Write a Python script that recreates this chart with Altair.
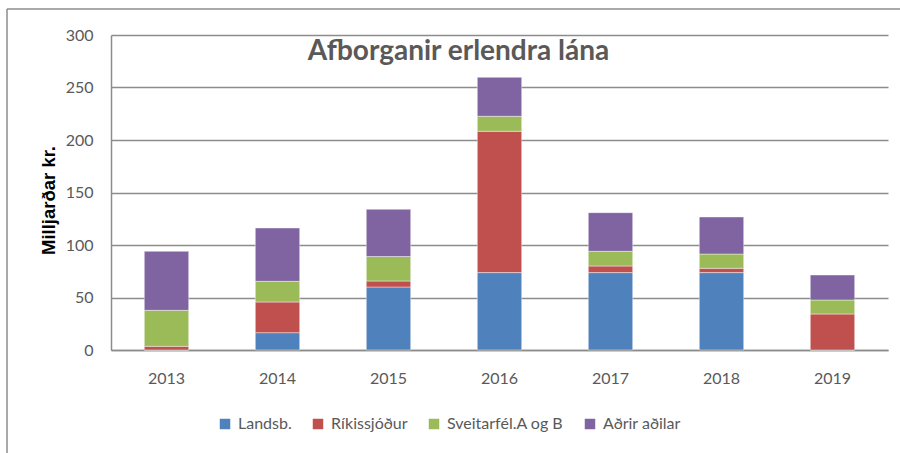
import altair as alt
import pandas as pd

years = ["2013", "2014", "2015", "2016", "2017", "2018", "2019"]
series = ["Landsb.", "Ríkissjóður", "Sveitarfél.A og B", "Aðrir aðilar"]
landsb = [0, 16.5, 60, 73.7, 73.7, 73.7, 0]
rikissjodur = [3.5, 29.2, 5.7, 134.6, 6.3, 4.1, 34.3]
sveitarfel = [34.3, 19.7, 23.3, 14.3, 14.0, 13.6, 13.3]
adrir = [56.2, 50.8, 45.0, 37.1, 36.8, 35.3, 23.8]
colors = ["#4F81BD", "#C0504D", "#9BBB59", "#8064A2"]
y_ticks = [0, 50, 100, 150, 200, 250, 300]

rows = []
for idx, (name, vals) in enumerate(zip(series, [landsb, rikissjodur, sveitarfel, adrir])):
    for yr, v in zip(years, vals):
        rows.append({"ar": yr, "adili": name, "rod": idx, "upphaed": v})
df = pd.DataFrame(rows)

FONT = "Lato"
GRID = "#8c8c8c"
TEXT = "#595959"

bars = alt.Chart(df).mark_bar(stroke="white", strokeWidth=0.6, strokeOpacity=0.7).encode(
    x=alt.X("ar:N", sort=years, title=None,
            scale=alt.Scale(paddingInner=0.6, paddingOuter=0.3),
            axis=alt.Axis(labelAngle=0, ticks=False, labelPadding=20,
                          labelFontSize=16, labelColor=TEXT, labelFont=FONT,
                          domainColor=GRID, domainWidth=1.5)),
    y=alt.Y("upphaed:Q", stack="zero", title="Milljarðar kr.",
            scale=alt.Scale(domain=[0, 300], nice=False),
            axis=alt.Axis(values=y_ticks, ticks=False, labelPadding=18,
                          labelFontSize=16, labelColor=TEXT, labelFont=FONT,
                          gridColor=GRID, gridWidth=1.5, domainColor=GRID, domainWidth=1.5,
                          titleFont="Liberation Sans", titleFontSize=18.5, titleFontWeight="bold",
                          titleColor="black", titleX=-63, titleY=165,
                          titleAlign="center", titleBaseline="middle", titleAngle=-90)),
    color=alt.Color("adili:N", sort=series,
                    scale=alt.Scale(domain=series, range=colors),
                    legend=alt.Legend(title=None, orient="none", direction="horizontal",
                                      legendX=106, legendY=381,
                                      symbolType="square", symbolSize=110,
                                      symbolStrokeWidth=0, labelFontSize=16,
                                      labelColor=TEXT, labelFont=FONT,
                                      labelOffset=5, columnPadding=18)),
    order=alt.Order("rod:Q"),
)

frame_src = alt.Data(values=[{"k": 1}])
frame_left = alt.Chart(frame_src).mark_rule(color=GRID, strokeWidth=1.5).encode(
    x=alt.value(-104), y=alt.value(-26), y2=alt.value(430))
frame_top = alt.Chart(frame_src).mark_rule(color=GRID, strokeWidth=1.5).encode(
    x=alt.value(-104), x2=alt.value(800), y=alt.value(-26))

chart = alt.layer(bars, frame_left, frame_top).properties(
    width=777, height=315,
    autosize=alt.AutoSizeParams(type="none"),
    padding={"left": 111, "top": 35, "right": 12, "bottom": 103},
    title=alt.TitleParams("Afborganir erlendra lána", font=FONT, fontSize=28,
                          fontWeight="bold", color=TEXT, anchor="middle",
                          baseline="alphabetic", dx=-41, dy=58, offset=-22),
).configure_view(stroke=None)

chart.save("out.html", embed_options={"renderer": "svg", "actions": False})
